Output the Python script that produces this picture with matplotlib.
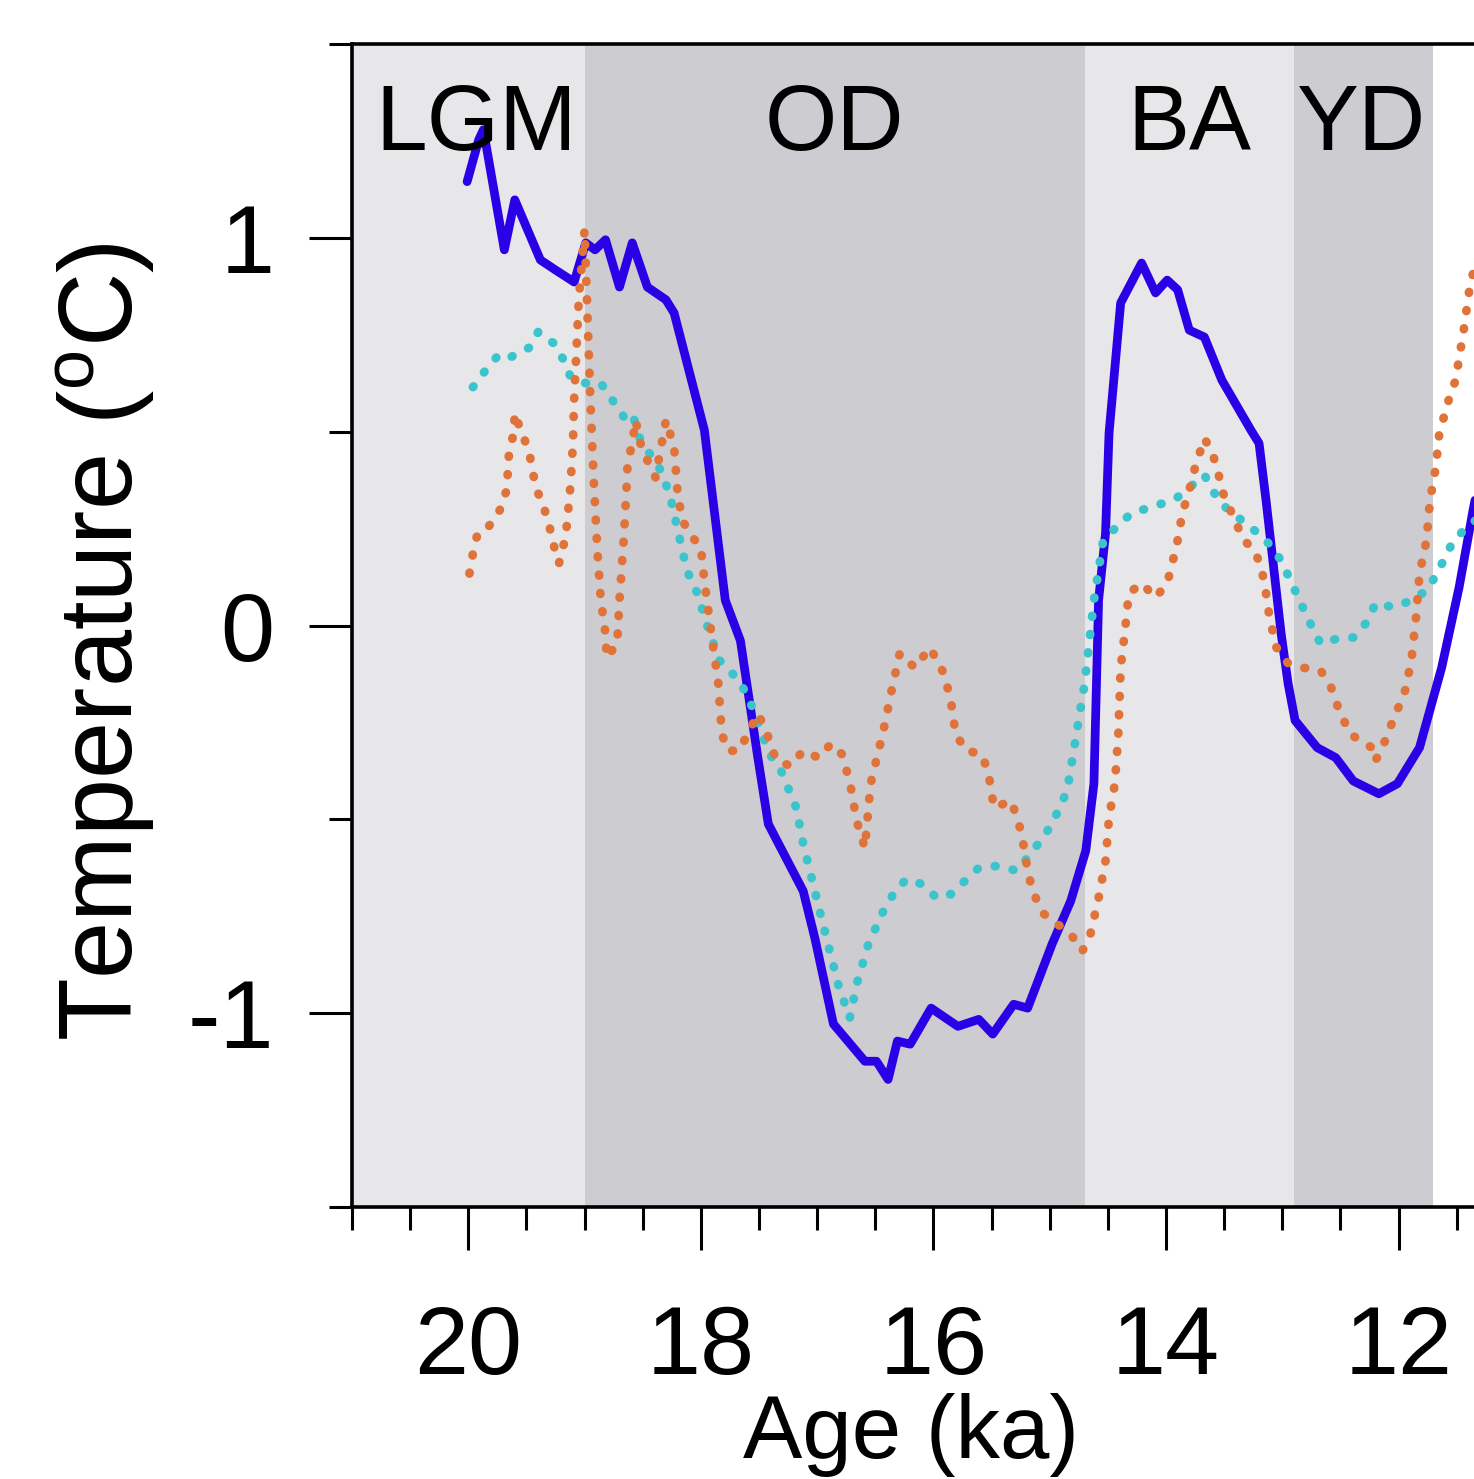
import matplotlib
matplotlib.use('Agg')
import matplotlib.pyplot as plt
import matplotlib.transforms as mtransforms
import numpy as np

plt.rcParams['font.family'] = ['Liberation Sans', 'DejaVu Sans']
plt.rcParams['axes.unicode_minus'] = False

# climate periods (start age, end age, shade)
period_names = ['LGM', 'OD', 'BA', 'YD']
period_start = [21.0, 19.0, 14.7, 12.9]
period_end = [19.0, 14.7, 12.9, 11.7]
period_label_x = [19.93, 16.85, 13.80, 12.32]
period_colors = ['#e7e6e9', '#cdccd0', '#e7e6e9', '#cdccd0']

# solid blue curve
age_blue = [20.01, 19.91, 19.87, 19.69, 19.60, 19.38, 19.25, 19.09, 18.99, 18.91,
            18.82, 18.70, 18.59, 18.46, 18.30, 18.23, 17.97, 17.79, 17.66, 17.51,
            17.42, 17.12, 17.02, 16.86, 16.59, 16.49, 16.39, 16.31, 16.20, 16.02,
            15.79, 15.61, 15.49, 15.31, 15.19, 14.98, 14.82, 14.69, 14.62, 14.58,
            14.52, 14.49, 14.39, 14.21, 14.09, 13.99, 13.90, 13.80, 13.67, 13.52,
            13.27, 13.20, 13.14, 13.01, 12.95, 12.89, 12.70, 12.54, 12.39, 12.17,
            12.01, 11.82, 11.63, 11.48, 11.36, 11.28]
temp_blue = [1.145, 1.253, 1.279, 0.969, 1.098, 0.943, 0.917, 0.886, 0.987, 0.969,
             0.995, 0.873, 0.987, 0.873, 0.840, 0.806, 0.504, 0.065, -0.039, -0.341,
             -0.512, -0.685, -0.806, -1.028, -1.124, -1.124, -1.171, -1.072, -1.080, -0.987,
             -1.034, -1.016, -1.054, -0.977, -0.987, -0.822, -0.711, -0.581, -0.408, 0.065,
             0.238, 0.496, 0.832, 0.935, 0.858, 0.891, 0.866, 0.762, 0.744, 0.633,
             0.504, 0.470, 0.323, -0.021, -0.150, -0.245, -0.315, -0.341, -0.401, -0.434,
             -0.408, -0.315, -0.109, 0.098, 0.297, 0.42]

# cyan dotted curve
age_cyan = [19.96, 19.85, 19.74, 19.65, 19.48, 19.40, 19.27, 19.18, 19.12, 18.99,
            18.86, 18.76, 18.66, 18.59, 18.52, 18.36, 18.27, 18.12, 18.03, 17.94,
            17.84, 17.67, 17.58, 17.41, 17.31, 17.18, 17.12, 17.02, 16.92, 16.82,
            16.72, 16.66, 16.56, 16.43, 16.33, 16.23, 16.10, 15.97, 15.85, 15.73,
            15.61, 15.44, 15.28, 15.08, 14.98, 14.85, 14.77, 14.70, 14.62, 14.54,
            14.43, 14.30, 14.03, 13.90, 13.67, 13.55, 13.46, 13.27, 13.14, 13.01,
            12.89, 12.80, 12.73, 12.67, 12.53, 12.39, 12.26, 12.20, 12.04, 11.89,
            11.76, 11.67, 11.54, 11.42, 11.30]
temp_cyan = [0.615, 0.659, 0.698, 0.690, 0.716, 0.757, 0.729, 0.685, 0.641, 0.625,
             0.625, 0.581, 0.537, 0.548, 0.478, 0.408, 0.341, 0.142, 0.083, -0.005,
             -0.090, -0.142, -0.194, -0.331, -0.375, -0.470, -0.563, -0.685, -0.806, -0.925,
             -1.013, -0.925, -0.822, -0.736, -0.685, -0.654, -0.667, -0.703, -0.693, -0.659,
             -0.625, -0.620, -0.633, -0.556, -0.512, -0.426, -0.279, -0.150, 0.065, 0.220,
             0.253, 0.289, 0.315, 0.331, 0.388, 0.323, 0.297, 0.253, 0.220, 0.168,
             0.090, 0.031, -0.013, -0.047, -0.034, -0.031, 0.013, 0.057, 0.047, 0.065,
             0.090, 0.134, 0.212, 0.253, 0.28]

# orange dotted curve
age_orange = [19.99, 19.96, 19.92, 19.83, 19.73, 19.67, 19.65, 19.61, 19.60, 19.55,
              19.48, 19.42, 19.35, 19.30, 19.27, 19.22, 19.17, 19.15, 19.12, 19.10,
              19.09, 19.05, 19.00, 18.95, 18.92, 18.89, 18.86, 18.82, 18.81, 18.72,
              18.70, 18.66, 18.64, 18.63, 18.59, 18.56, 18.53, 18.46, 18.39, 18.30,
              18.23, 18.20, 18.16, 18.07, 18.00, 17.97, 17.91, 17.85, 17.82, 17.77,
              17.67, 17.51, 17.44, 17.35, 17.23, 17.12, 16.99, 16.88, 16.79, 16.72,
              16.66, 16.59, 16.54, 16.43, 16.36, 16.29, 16.16, 16.03, 15.91, 15.85,
              15.81, 15.72, 15.59, 15.53, 15.48, 15.33, 15.24, 15.21, 15.15, 15.05,
              14.82, 14.72, 14.65, 14.58, 14.52, 14.49, 14.44, 14.41, 14.39, 14.35,
              14.32, 14.21, 14.09, 13.99, 13.94, 13.90, 13.86, 13.80, 13.75, 13.67,
              13.60, 13.55, 13.52, 13.42, 13.33, 13.24, 13.18, 13.14, 13.11, 13.05,
              12.95, 12.82, 12.67, 12.58, 12.52, 12.42, 12.33, 12.23, 12.20, 12.14,
              12.04, 11.95, 11.89, 11.85, 11.82, 11.76, 11.73, 11.68, 11.65, 11.57,
              11.51, 11.44, 11.38, 11.30]
temp_orange = [0.134, 0.186, 0.238, 0.253, 0.297, 0.349, 0.444, 0.496, 0.548, 0.504,
               0.452, 0.357, 0.305, 0.253, 0.212, 0.160, 0.220, 0.264, 0.367, 0.470,
               0.581, 0.840, 1.021, 0.581, 0.367, 0.194, 0.065, -0.021, -0.083, -0.047,
               0.065, 0.238, 0.349, 0.419, 0.470, 0.530, 0.478, 0.426, 0.382, 0.530,
               0.460, 0.341, 0.271, 0.227, 0.202, 0.116, -0.021, -0.150, -0.279, -0.323,
               -0.323, -0.227, -0.271, -0.349, -0.362, -0.323, -0.341, -0.305, -0.331, -0.401,
               -0.504, -0.574, -0.408, -0.271, -0.168, -0.072, -0.109, -0.057, -0.124, -0.194,
               -0.279, -0.323, -0.331, -0.375, -0.470, -0.452, -0.537, -0.599, -0.685, -0.744,
               -0.796, -0.840, -0.796, -0.703, -0.607, -0.496, -0.408, -0.279, -0.109, -0.005,
               0.083, 0.109, 0.072, 0.109, 0.168, 0.220, 0.289, 0.349, 0.408, 0.483,
               0.444, 0.393, 0.349, 0.279, 0.220, 0.194, 0.150, 0.083, 0.021, -0.057,
               -0.098, -0.109, -0.116, -0.160, -0.212, -0.279, -0.297, -0.315, -0.349, -0.315,
               -0.238, -0.176, -0.090, 0.021, 0.134, 0.220, 0.323, 0.408, 0.496, 0.581,
               0.633, 0.762, 0.891, 0.956]

x_major = [20, 18, 16, 14, 12]
y_major = [-1, 0, 1]
y_major_labels = ['-1', '0', '1']

W, H = 1474, 1479
fig = plt.figure(figsize=(W / 100, H / 100), dpi=100)
ax = fig.add_axes([352 / W, (H - 1207) / H, (1480 - 352) / W, (1207 - 44) / H])

for s, e, c in zip(period_start, period_end, period_colors):
    ax.axvspan(s, e, color=c, lw=0, zorder=0)

ax.plot(age_blue, temp_blue, color='#2a00e6', lw=6.3, solid_joinstyle='round',
        solid_capstyle='round', zorder=3)
ax.plot(age_cyan, temp_cyan, color='#3cc4cc', lw=6.3, linestyle=(0, (0.1, 2.0)),
        dash_capstyle='round', zorder=4)
ax.plot(age_orange, temp_orange, color='#e0733a', lw=6.3, linestyle=(0, (0.1, 2.0)),
        dash_capstyle='round', zorder=5)

trans = mtransforms.blended_transform_factory(ax.transData, ax.transAxes)
for name, xp in zip(period_names, period_label_x):
    ax.text(xp, 0.909, name, transform=trans, ha='center', va='baseline',
            fontsize=67, zorder=6)

ax.set_xlim(21, 11.3)
ax.set_ylim(-1.5, 1.5)
ax.set_xticks(x_major)
ax.set_xticklabels([str(v) for v in x_major])
ax.set_xticks(np.arange(21, 11.3, -0.5), minor=True)
ax.set_yticks(y_major)
ax.set_yticklabels(y_major_labels)
ax.set_yticks([-1.5, -0.5, 0.5, 1.5], minor=True)

ax.tick_params(axis='both', which='major', length=31, width=2.2, labelsize=70, direction='out')
ax.tick_params(axis='both', which='minor', length=16.5, width=2.2, direction='out')
ax.tick_params(axis='x', which='major', pad=39)
ax.tick_params(axis='y', which='major', pad=25)
for sp in ax.spines.values():
    sp.set_linewidth(2.6)

ax.set_xlabel('Age (ka)', fontsize=64)
ax.xaxis.set_label_coords(0.496, (1207 - 1458) / 1163)
ax.xaxis.label.set_verticalalignment('baseline')
ax.set_ylabel('Temperature ($\\mathregular{^o}$C)', fontsize=74)
ax.yaxis.set_label_coords((133 - 352) / 1128, (1207 - 642) / 1163)
ax.yaxis.label.set_verticalalignment('baseline')

fig.savefig('out.png', dpi=100)
